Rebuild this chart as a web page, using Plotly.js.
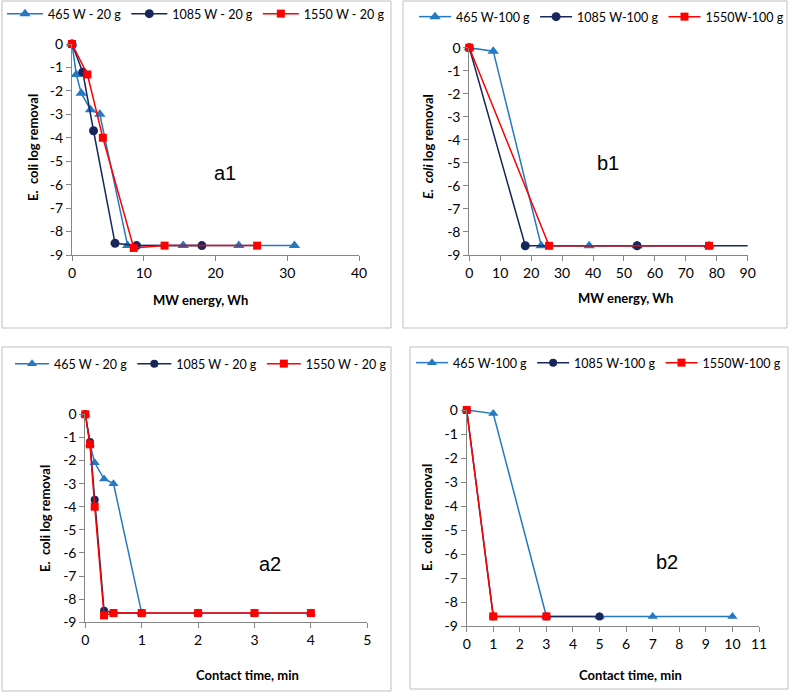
<!DOCTYPE html>
<html>
<head>
<meta charset="utf-8">
<script src="https://cdn.plot.ly/plotly-3.0.1.min.js"></script>
<style>
  body { margin: 0; background: #fff; }
  #chart { width: 790px; height: 693px; }
</style>
</head>
<body>
<div id="chart"></div>
<script>
// a1: MW energy (Wh), 20 g samples
var a1E465 = [0, 0.6, 1.29, 2.58, 3.88, 7.75, 15.5, 23.25, 31.0];
var a1Y465 = [0, -1.3, -2.1, -2.8, -3.0, -8.6, -8.6, -8.6, -8.6];
var a1E1085 = [0, 1.5, 3.0, 6.0, 9.0, 18.1];
var a1Y1085 = [0, -1.2, -3.7, -8.5, -8.6, -8.6];
var a1E1550 = [0, 2.15, 4.3, 8.6, 12.9, 25.8];
var a1Y1550 = [0, -1.3, -4.0, -8.7, -8.6, -8.6];

// b1: MW energy (Wh), 100 g samples
var b1E465 = [0, 7.75, 23.25, 38.75, 54.25, 77.5];
var b1Y465 = [0, -0.15, -8.6, -8.6, -8.6, -8.6];
var b1E1085 = [0, 18.1, 54.25, 90.4];
var b1Y1085 = [0, -8.6, -8.6, -8.6];
var b1E1550 = [0, 25.8, 77.5];
var b1Y1550 = [0, -8.6, -8.6];

// a2: contact time (min), 20 g samples
var a2T465 = [0, 0.083, 0.167, 0.333, 0.5, 1, 2, 3, 4];
var a2Y465 = [0, -1.3, -2.1, -2.8, -3.0, -8.6, -8.6, -8.6, -8.6];
var a2T1085 = [0, 0.083, 0.167, 0.333, 0.5, 1];
var a2Y1085 = [0, -1.2, -3.7, -8.5, -8.6, -8.6];
var a2T1550 = [0, 0.083, 0.167, 0.333, 0.5, 1, 2, 3, 4];
var a2Y1550 = [0, -1.3, -4.0, -8.7, -8.6, -8.6, -8.6, -8.6, -8.6];

// b2: contact time (min), 100 g samples
var b2T465 = [0, 1, 3, 5, 7, 10];
var b2Y465 = [0, -0.15, -8.6, -8.6, -8.6, -8.6];
var b2T1085 = [0, 1, 3, 5];
var b2Y1085 = [0, -8.6, -8.6, -8.6];
var b2T1550 = [0, 1, 3];
var b2Y1550 = [0, -8.6, -8.6];

var namesA = ["465 W - 20 g", "1085 W - 20 g", "1550 W - 20 g"];
var namesB = ["465 W-100 g", "1085 W-100 g", "1550W-100 g"];

var yTickVals = [0, -1, -2, -3, -4, -5, -6, -7, -8, -9];
var yTickText = ["0", "-1", "-2", "-3", "-4", "-5", "-6", "-7", "-8", "-9"];

var W = 790, H = 693;
var FONT = "Lato, 'Open Sans', sans-serif";
var blue = "#2479C2", navy = "#17275C", red = "#FF0000";

function px(x) { return x / W; }
function py(y) { return 1 - y / H; }

function series(x, y, name, color, symbol, size, xa, ya, leg) {
    return {
        x: x, y: y, name: name, type: "scatter", mode: "lines+markers",
        xaxis: xa, yaxis: ya, legend: leg, cliponaxis: false,
        line: { color: color, width: 1.5 },
        marker: { color: color, symbol: symbol, size: size }
    };
}

var data = [
    series(a1E465, a1Y465, namesA[0], blue, "triangle-up", 10, "x", "y", "legend"),
    series(a1E1085, a1Y1085, namesA[1], navy, "circle", 9, "x", "y", "legend"),
    series(a1E1550, a1Y1550, namesA[2], red, "square", 8, "x", "y", "legend"),
    series(b1E465, b1Y465, namesB[0], blue, "triangle-up", 10, "x2", "y2", "legend2"),
    series(b1E1085, b1Y1085, namesB[1], navy, "circle", 9, "x2", "y2", "legend2"),
    series(b1E1550, b1Y1550, namesB[2], red, "square", 8, "x2", "y2", "legend2"),
    series(a2T465, a2Y465, namesA[0], blue, "triangle-up", 9, "x3", "y3", "legend3"),
    series(a2T1085, a2Y1085, namesA[1], navy, "circle", 8, "x3", "y3", "legend3"),
    series(a2T1550, a2Y1550, namesA[2], red, "square", 8, "x3", "y3", "legend3"),
    series(b2T465, b2Y465, namesB[0], blue, "triangle-up", 9, "x4", "y4", "legend4"),
    series(b2T1085, b2Y1085, namesB[1], navy, "circle", 8, "x4", "y4", "legend4"),
    series(b2T1550, b2Y1550, namesB[2], red, "square", 8, "x4", "y4", "legend4")
];

function xAxis(x0, x1, y, range, dtick) {
    return {
        domain: [px(x0), px(x1)], anchor: y, range: range, dtick: dtick,
        showgrid: false, zeroline: false, showline: true, linecolor: "#868686", linewidth: 1,
        ticks: "outside", ticklen: 5, tickcolor: "#868686",
        tickfont: { family: FONT, size: 14, color: "#000" }
    };
}
function yAxis(y0, y1, x) {
    return {
        domain: [py(y1), py(y0)], anchor: x, range: [-9, 0],
        tickvals: yTickVals, ticktext: yTickText,
        showgrid: false, zeroline: false, showline: true, linecolor: "#868686", linewidth: 1,
        ticks: "outside", ticklen: 5, tickcolor: "#868686",
        tickfont: { family: FONT, size: 14, color: "#000" }
    };
}
function legend(x, y, iw) {
    return {
        orientation: "h", x: px(x), y: py(y), xanchor: "left", yanchor: "middle",
        font: { family: FONT, size: 12.5, color: "#000" },
        itemwidth: iw, bgcolor: "rgba(0,0,0,0)", tracegroupgap: 0
    };
}

function label(text, x, y, angle, size, bold) {
    return {
        text: text, x: px(x), y: py(y), xref: "paper", yref: "paper",
        showarrow: false, textangle: angle, xanchor: "center", yanchor: "middle",
        font: { family: bold ? FONT : "'Liberation Sans', Arial, sans-serif", size: size, color: "#000",
                weight: bold ? "bold" : "normal" }
    };
}

function box(x0, y0, x1, y1) {
    return {
        type: "rect", xref: "paper", yref: "paper",
        x0: px(x0), x1: px(x1), y0: py(y1), y1: py(y0),
        line: { color: "#BFBFBF", width: 1 }, fillcolor: "rgba(0,0,0,0)", layer: "below"
    };
}

var layout = {
    width: W, height: H,
    margin: { l: 0, r: 0, t: 0, b: 0, autoexpand: false },
    paper_bgcolor: "#fff", plot_bgcolor: "rgba(0,0,0,0)",
    showlegend: true,
    xaxis: xAxis(72, 359, "y", [0, 40], 10),
    yaxis: yAxis(44, 255, "x"),
    xaxis2: xAxis(469.3, 747.7, "y2", [0, 90], 10),
    yaxis2: yAxis(47.7, 255, "x2"),
    xaxis3: xAxis(85.3, 367.3, "y3", [0, 5], 1),
    yaxis3: yAxis(414.3, 622.3, "x3"),
    xaxis4: xAxis(466.7, 759, "y4", [0, 11], 1),
    yaxis4: yAxis(410, 626, "x4"),
    legend: legend(2, 14, 36),
    legend2: legend(414, 17, 32),
    legend3: legend(10, 364, 34),
    legend4: legend(411, 363, 32),
    annotations: [
        label("MW energy, Wh", 200, 300, 0, 13, true),
        label("MW energy, Wh", 625, 298, 0, 13, true),
        label("Contact time, min", 247, 675, 0, 13, true),
        label("Contact time, min", 630, 675, 0, 13, true),
        label("E.  coli log removal", 33, 148, -90, 13, true),
        label("<i>E.  coli</i> log removal", 428, 147, -90, 13, true),
        label("E.  coli log removal", 45, 519, -90, 13, true),
        label("E.  coli log removal", 427, 518, -90, 13, true),
        label("a1", 225, 173, 0, 20, false),
        label("b1", 608, 163, 0, 20, false),
        label("a2", 270, 564, 0, 20, false),
        label("b2", 667, 562, 0, 20, false)
    ],
    shapes: [
        box(2, 1, 391, 328),
        box(403, 1, 787, 328),
        box(2, 347, 391, 691),
        box(410, 347, 788, 689)
    ]
};

Plotly.newPlot("chart", data, layout, { displayModeBar: false, staticPlot: true });
</script>
</body>
</html>
